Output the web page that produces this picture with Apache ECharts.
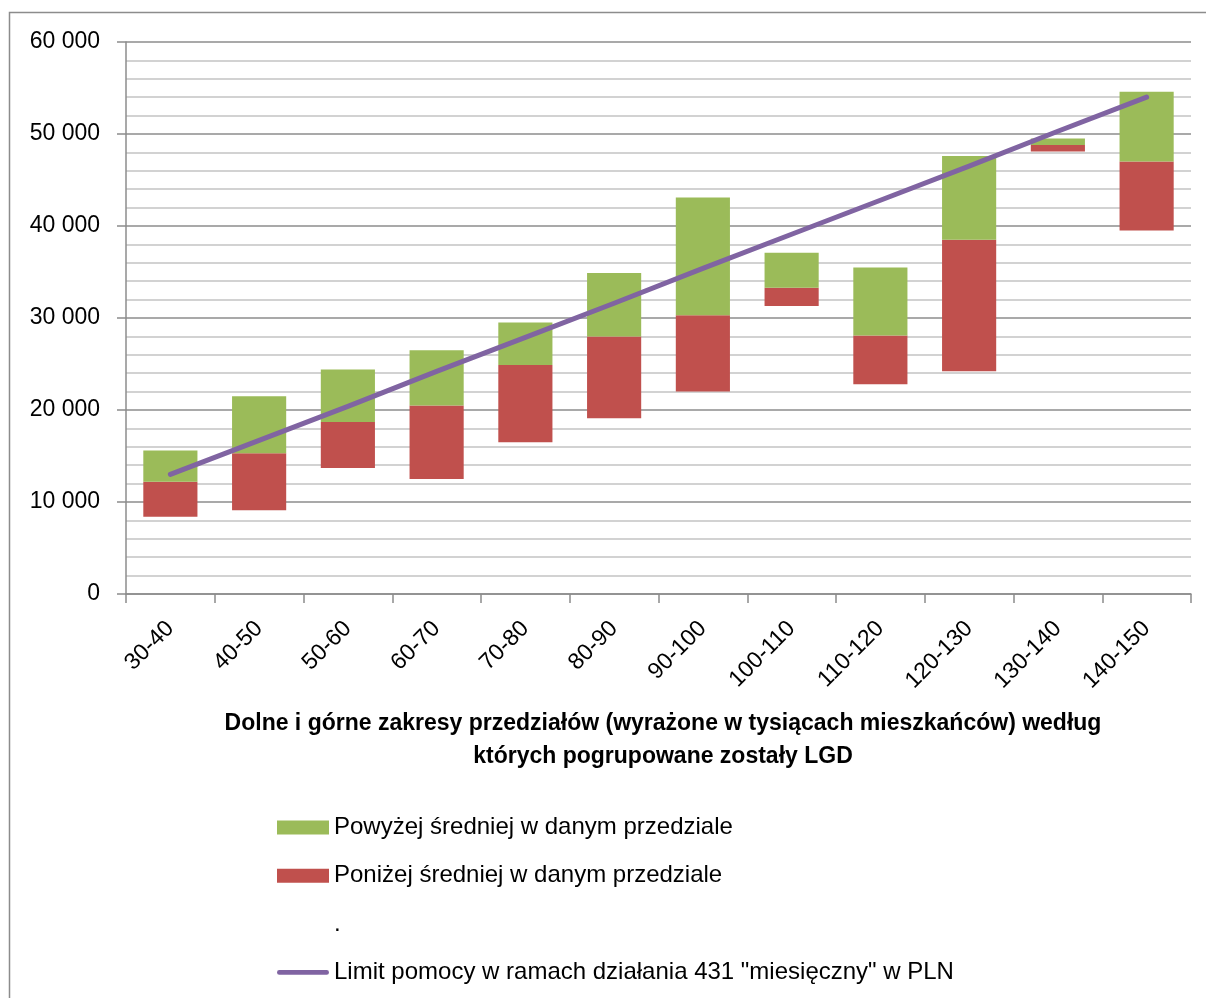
<!DOCTYPE html>
<html>
<head>
<meta charset="utf-8">
<title>Limit pomocy a przedziały LGD</title>
<script src="https://cdn.jsdelivr.net/npm/echarts@6/dist/echarts.min.js"></script>
<style>
  html, body { margin: 0; padding: 0; background: #fff; }
  #chart { width: 1206px; height: 998px; }
</style>
</head>
<body>
<div id="chart"></div>
<script>
// Przedziały liczby mieszkańców (w tys.)
const categories = ['30-40', '40-50', '50-60', '60-70', '70-80', '80-90',
                    '90-100', '100-110', '110-120', '120-130', '130-140', '140-150'];

// Niewidoczna podstawa słupka (dolna granica zakresu)
const baseValues  = [8400, 9100, 13700, 12500, 16500, 19100, 22000, 31300, 22800, 24200, 48100, 39500];
// Część poniżej średniej w danym przedziale
const belowValues = [3800, 6200, 5000, 8000, 8400, 8900, 8300, 2000, 5300, 14300, 700, 7500];
// Część powyżej średniej w danym przedziale
const aboveValues = [3400, 6200, 5700, 6000, 4600, 6900, 12800, 3800, 7400, 9100, 700, 7600];
// Limit pomocy w ramach działania 431 "miesięczny" w PLN
const limitValues = [13000, 16700, 20400, 24200, 27900, 31600, 35400, 39100, 42800, 46500, 50300, 54000];

// Podpisy osi wartości
const yTickLabels = ['0', '10 000', '20 000', '30 000', '40 000', '50 000', '60 000'];

const nameAbove = 'Powyżej średniej w danym przedziale';
const nameBelow = 'Poniżej średniej w danym przedziale';
const nameBase = '.';
const nameLimit = 'Limit pomocy w ramach działania 431 "miesięczny" w PLN';

const FONT = "'Liberation Sans', Arial, sans-serif";

// Ikona legendy dla linii: gruby odcinek z zaokrąglonymi końcami
const lineIcon = 'path://M2.5,0 L53.5,0 A2.5,2.5 0 0 1 53.5,5 L2.5,5 A2.5,2.5 0 0 1 2.5,0 Z';

const chart = echarts.init(document.getElementById('chart'), null, { renderer: 'canvas' });

chart.setOption({
  backgroundColor: '#ffffff',
  animation: false,
  textStyle: { fontFamily: FONT, color: '#000' },
  graphic: [{
    type: 'rect',
    shape: { x: 9.5, y: 12.5, width: 1300, height: 1100 },
    style: { fill: 'none', stroke: '#8c8c8c', lineWidth: 1.5 },
    silent: true,
    z: -10
  }],
  title: {
    text: 'Dolne i górne zakresy przedziałów (wyrażone w tysiącach mieszkańców) według\nktórych pogrupowane zostały LGD',
    left: 658,
    top: 702,
    textAlign: 'center',
    textStyle: {
      fontFamily: FONT,
      fontSize: 23,
      fontWeight: 'bold',
      color: '#000',
      lineHeight: 33,
      align: 'center'
    }
  },
  legend: {
    orient: 'vertical',
    left: 277,
    top: 813.5,
    padding: 0,
    itemWidth: 52,
    itemHeight: 14,
    itemGap: 20.3,
    symbolKeepAspect: true,
    selectedMode: false,
    textStyle: { fontFamily: FONT, fontSize: 24, color: '#000', lineHeight: 28 },
    data: [
      { name: nameAbove, icon: 'rect' },
      { name: nameBelow, icon: 'rect' },
      { name: nameBase, icon: 'rect' },
      { name: nameLimit, icon: lineIcon }
    ]
  },
  grid: {
    left: 126,
    right: 15,
    top: 42,
    bottom: 404,
    containLabel: false
  },
  xAxis: {
    type: 'category',
    data: categories,
    boundaryGap: true,
    axisLine: { show: true, lineStyle: { color: '#8c8c8c', width: 1.5 } },
    axisTick: { show: true, length: 9, alignWithLabel: false, lineStyle: { color: '#8c8c8c', width: 1.5 } },
    axisLabel: {
      interval: 0,
      rotate: 45,
      margin: 31,
      fontFamily: FONT,
      fontSize: 23,
      color: '#000'
    },
    splitLine: { show: false }
  },
  yAxis: {
    type: 'value',
    min: 0,
    max: 60000,
    interval: 10000,
    axisLine: { show: true, lineStyle: { color: '#8c8c8c', width: 1.5 } },
    axisTick: { show: true, inside: false, length: 9, lineStyle: { color: '#8c8c8c', width: 1.5 } },
    axisLabel: {
      margin: 26,
      fontFamily: FONT,
      fontSize: 23,
      color: '#000',
      formatter: function (v) { return yTickLabels[Math.round(v / 10000)]; }
    },
    splitLine: { show: true, lineStyle: { color: '#8c8c8c', width: 1.5 } },
    minorTick: { show: false, splitNumber: 5 },
    minorSplitLine: { show: true, lineStyle: { color: '#c4c4c4', width: 1.5 } }
  },
  series: [
    {
      name: nameBase,
      type: 'bar',
      stack: 'zakres',
      data: baseValues,
      barCategoryGap: '39%',
      itemStyle: { color: 'rgba(0,0,0,0)' },
      emphasis: { disabled: true },
      silent: true
    },
    {
      name: nameBelow,
      type: 'bar',
      stack: 'zakres',
      data: belowValues,
      itemStyle: { color: '#C0504D' }
    },
    {
      name: nameAbove,
      type: 'bar',
      stack: 'zakres',
      data: aboveValues,
      itemStyle: { color: '#9BBB59' }
    },
    {
      name: nameLimit,
      type: 'line',
      data: limitValues,
      symbol: 'none',
      showSymbol: false,
      z: 5,
      lineStyle: { color: '#8064A2', width: 5, cap: 'round', join: 'round' },
      itemStyle: { color: '#8064A2' }
    }
  ]
});
</script>
</body>
</html>
